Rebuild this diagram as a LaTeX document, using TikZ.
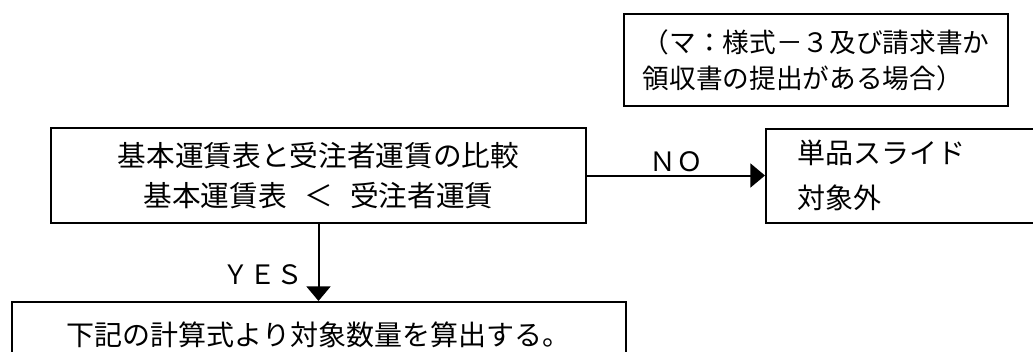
\documentclass[tikz,border=0pt]{standalone}
\usepackage{fontspec}
\setmainfont{Noto Sans CJK JP}
\usepackage{tikz}
\usetikzlibrary{positioning,arrows.meta}
\tikzstyle{block} = [rectangle, draw, line width=1.5pt, inner sep=0pt, font=\fontsize{21pt}{30pt}\selectfont]
\tikzstyle{line} = [draw, line width=1.5pt, -{Triangle[length=11pt,width=18pt]}]
\tikzstyle{answer} = [font=\fontsize{20pt}{22pt}\selectfont, inner sep=2pt]

\begin{document}
\begin{tikzpicture}[x=0.75pt,y=-0.75pt]
      \useasboundingbox (0,0) rectangle (1033,351);
      \clip (0,0) rectangle (1033,351);
      \node [block, minimum width=288pt, minimum height=69pt, align=left, font=\fontsize{20pt}{27pt}\selectfont] (jouken) at (816,60) {（マ：様式－３及び請求書か\\領収書の提出がある場合）};
      \node [block, minimum width=401.25pt, minimum height=71.25pt, align=center, font=\fontsize{21.5pt}{30pt}\selectfont] (hikaku) at (318.5,175.5) {基本運賃表と受注者運賃の比較\\基本運賃表\hspace{0.6em}＜\hspace{0.6em}受注者運賃};
      \node [block, right=133.5pt of hikaku, minimum height=70.5pt, inner xsep=23.25pt, text width=164.25pt, align=left, font=\fontsize{21pt}{34pt}\selectfont] (taisyogai) {単品スライド\\対象外};
      \node [block, below=57.75pt of hikaku, minimum width=460.5pt, minimum height=49.5pt] (santei) {下記の計算式より対象数量を算出する。};

      \path [line] (hikaku) -- node [answer, above] {ＮＯ} (taisyogai);
      \path [line] (hikaku) -- node [answer, left=9pt, pos=0.66] {ＹＥＳ} (santei);
\end{tikzpicture}
\end{document}
